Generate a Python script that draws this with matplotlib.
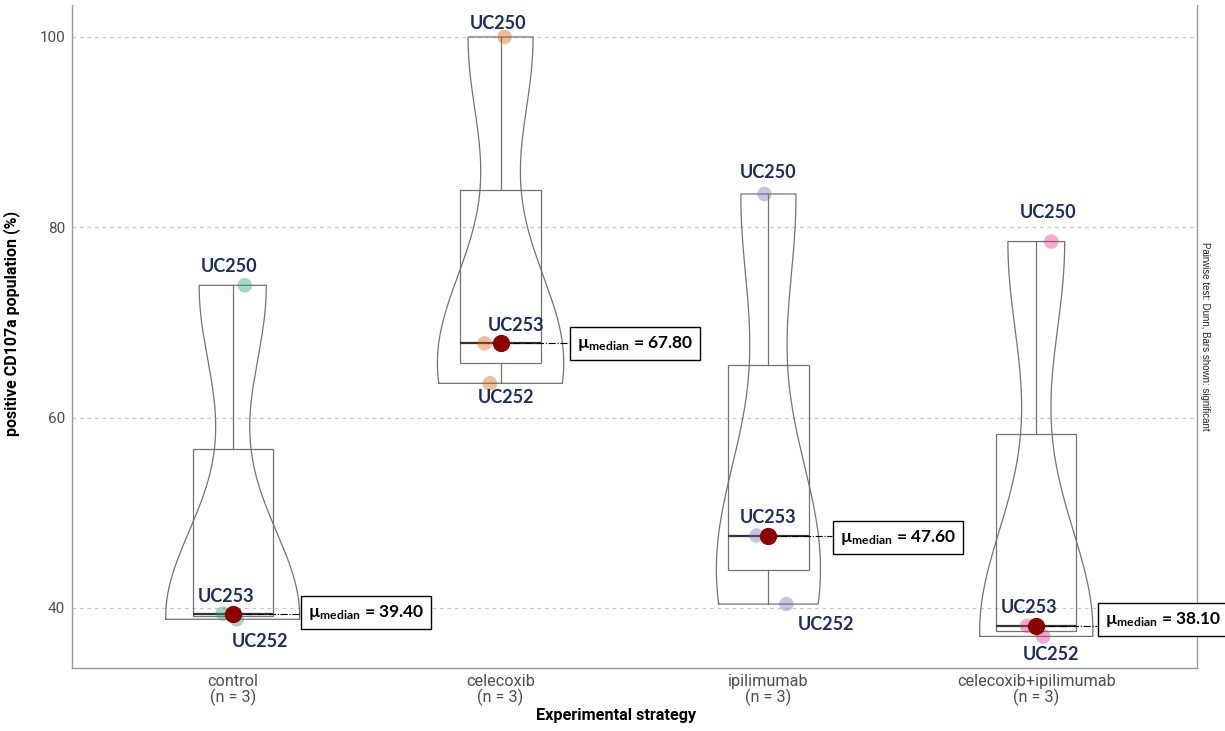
import numpy as np
import matplotlib.pyplot as plt

# values, one list per group, samples in order UC250, UC253, UC252
groups = ['control', 'celecoxib', 'ipilimumab', 'celecoxib+ipilimumab']
samples = ['UC250', 'UC253', 'UC252']
control = [73.9, 39.4, 38.8]
celecoxib = [100.0, 67.8, 63.6]
ipilimumab = [83.5, 47.6, 40.4]
combo = [78.5, 38.1, 37.0]
values = [control, celecoxib, ipilimumab, combo]
yticks = [40, 60, 80, 100]

point_colors = ['#1b9e77', '#d95f02', '#7570b3', '#e7298a']
label_color = '#1b2c62'

# horizontal jitter of dots (x units), label offsets (px, up positive), median box shifts
jitter = [[0.045, -0.037, 0.015], [0.015, -0.06, -0.04],
          [-0.015, -0.045, 0.067], [0.056, -0.034, 0.026]]
label_offsets = [[(-16, 19), (3, 17), (23, -22)],
                 [(-7, 13), (32, 18), (16, -14)],
                 [(4, 21), (12, 18), (40, -20)],
                 [(-3, 29), (2, 18), (8, -18)]]
box_dx = [0.25, 0.255, 0.236, 0.225]
box_dy = [1, 0, -2, 6]

plt.rcParams['mathtext.fontset'] = 'custom'
plt.rcParams['mathtext.rm'] = 'Lato'
plt.rcParams['mathtext.bf'] = 'Lato:bold'
plt.rcParams['mathtext.it'] = 'Lato:italic'

fig = plt.figure(figsize=(12.25, 7.31), dpi=100)
ax = fig.add_axes([72 / 1225, 63 / 731, 1125 / 1225, 663 / 731])
px = 72 / 100  # pixels -> points


def nrd0(x):
    x = np.asarray(x)
    q1, q3 = np.percentile(x, [25, 75])
    lo = min(np.std(x, ddof=1), (q3 - q1) / 1.34)
    return 0.9 * lo * len(x) ** -0.2


# violin densities (gaussian, trimmed to data range, scaled by area)
dens = []
for v in values:
    v = np.asarray(v)
    bw = nrd0(v)
    yy = np.linspace(v.min(), v.max(), 512)
    d = np.exp(-0.5 * ((yy[:, None] - v[None, :]) / bw) ** 2).sum(axis=1)
    d = d / (len(v) * bw * np.sqrt(2 * np.pi))
    dens.append((yy, d))
dmax = max(d.max() for _, d in dens)

edge = '#737373'
for i, (yy, d) in enumerate(dens):
    pos = i + 1
    w = 0.25 * d / dmax
    xs = np.concatenate([pos - w, (pos + w)[::-1], [pos - w[0]]])
    ys = np.concatenate([yy, yy[::-1], [yy[0]]])
    ax.plot(xs, ys, color=edge, lw=0.9, zorder=2)

ax.boxplot(values, positions=[1, 2, 3, 4], widths=0.3, showcaps=False,
           showfliers=False, patch_artist=True, whis=1.5,
           boxprops=dict(facecolor='none', edgecolor=edge, lw=0.9),
           whiskerprops=dict(color=edge, lw=0.9),
           medianprops=dict(color='#333333', lw=1.6), zorder=3)

for i, v in enumerate(values):
    pos = i + 1
    xs = [pos + j for j in jitter[i]]
    ax.scatter(xs, v, s=110, color=point_colors[i], alpha=0.4,
               edgecolors='none', zorder=4)
    for k, name in enumerate(samples):
        dx, dy = label_offsets[i][k]
        ax.annotate(name, (xs[k], v[k]), xytext=(dx * px, dy * px),
                    textcoords='offset points', ha='center', va='center',
                    fontsize=13, fontweight='bold', family='Lato',
                    color=label_color, zorder=6)

    med = np.median(v)
    ax.scatter([pos], [med], s=130, color='#8b0000', zorder=5)
    bx = pos + box_dx[i]
    by = med + box_dy[i] / 9.515
    ax.plot([pos, bx], [med, med], color='black', lw=0.8, ls='-.', zorder=4)
    ax.annotate(r'$\mathbf{µ}_{\mathbf{median}}$' + ' = %.2f' % med, (bx, by),
                xytext=(6, 0), textcoords='offset points', ha='left', va='center',
                fontsize=12.5, fontweight='bold', family='Lato', color='black',
                annotation_clip=False, zorder=7,
                bbox=dict(boxstyle='square,pad=0.4', fc='white', ec='black', lw=1))

ax.set_xlim(0.4, 4.6)
ax.set_ylim(33.68, 103.36)
ax.set_xticks([1, 2, 3, 4])
ax.set_xticklabels(['%s\n(n = %d)' % (g, len(v)) for g, v in zip(groups, values)],
                   family='Roboto', fontsize=11.7, color='#4d4d4d', linespacing=1.05)
ax.set_yticks(yticks)
ax.set_yticklabels([str(t) for t in yticks], family='Roboto', fontsize=11,
                   color='#4d4d4d')
ax.tick_params(length=0, pad=4)
ax.tick_params(axis='y', pad=5)
ax.grid(axis='y', color='#c8c8c8', lw=0.9, ls=(0, (3, 3)))
ax.set_axisbelow(True)

for s in ['left', 'bottom', 'right']:
    ax.spines[s].set_color('#9a9a9a')
    ax.spines[s].set_linewidth(1)
ax.spines['top'].set_visible(False)

ax.set_ylabel('positive CD107a population (%)', family='Roboto',
              fontsize=11.5, fontweight='bold', color='black')
ax.yaxis.set_label_coords(-0.046, 0.52)
ax.set_xlabel('Experimental strategy', family='Roboto', fontsize=11.7,
              fontweight='bold', color='black')
ax.xaxis.set_label_coords(0.484, -0.061)

fig.text(1205 / 1225, 1 - 336 / 731, 'Pairwise test: Dunn, Bars shown: significant',
         rotation=270, ha='center', va='center', fontsize=7, color='#222222',
         family='Liberation Sans')

fig.savefig('out.png', dpi=100)
